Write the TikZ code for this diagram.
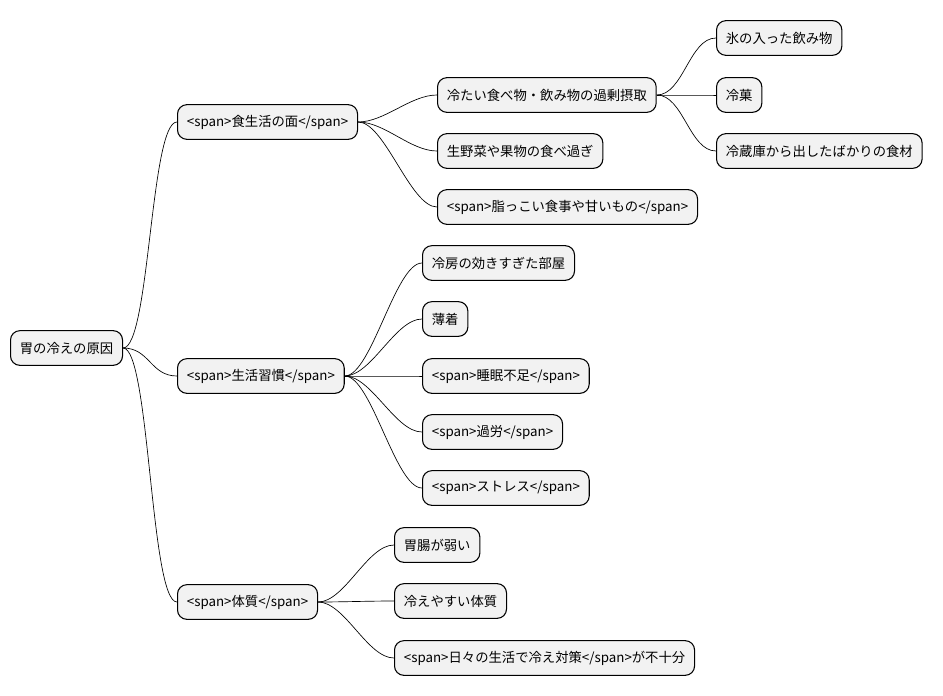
\documentclass[tikz,border=0pt]{standalone}
\usepackage{fontspec}
\setmainfont{Noto Sans CJK JP}
\begin{document}
\begin{tikzpicture}[x=0.75pt,y=-0.75pt,
    topic/.style={draw=black, fill=gray!10, rounded corners=7pt, line width=0.8pt,
        minimum height=26pt, inner xsep=7pt, anchor=west, font=\fontsize{10}{12}\selectfont},
    branch/.style={line width=0.5pt}]

    \useasboundingbox (0,0) rectangle (943,696);

    % root and first level
    \node[topic] (root) at (10,348) {胃の冷えの原因};
    \node[topic] (diet) at (177,122) {<span>食生活の面</span>};
    \node[topic] (habit) at (177,376) {<span>生活習慣</span>};
    \node[topic] (body) at (177,602) {<span>体質</span>};

    % diet
    \node[topic] (cold) at (437,95) {冷たい食べ物・飲み物の過剰摂取};
    \node[topic] (raw) at (437,151) {生野菜や果物の食べ過ぎ};
    \node[topic] (fat) at (437,207) {<span>脂っこい食事や甘いもの</span>};
    \node[topic] (ice) at (716,38) {氷の入った飲み物};
    \node[topic] (sweet) at (716,95) {冷菓};
    \node[topic] (fridge) at (716,151) {冷蔵庫から出したばかりの食材};

    % habit
    \node[topic] (aircon) at (422,263) {冷房の効きすぎた部屋};
    \node[topic] (thin) at (422,319) {薄着};
    \node[topic] (sleep) at (422,376) {<span>睡眠不足</span>};
    \node[topic] (work) at (422,432) {<span>過労</span>};
    \node[topic] (stress) at (422,488) {<span>ストレス</span>};

    % body
    \node[topic] (weak) at (394,545) {胃腸が弱い};
    \node[topic] (chill) at (394,601) {冷えやすい体質};
    \node[topic] (daily) at (394,658) {<span>日々の生活で冷え対策</span>が不十分};

    % connectors
    \foreach \a/\b in {root/diet, root/habit, root/body,
        diet/cold, diet/raw, diet/fat, cold/ice, cold/sweet, cold/fridge,
        habit/aircon, habit/thin, habit/sleep, habit/work, habit/stress,
        body/weak, body/chill, body/daily}
        \draw[branch] (\a.east) .. controls ([xshift=20pt]\a.east |- \a.east) and ([xshift=-20pt]\b.west) .. (\b.west);

\end{tikzpicture}
\end{document}
